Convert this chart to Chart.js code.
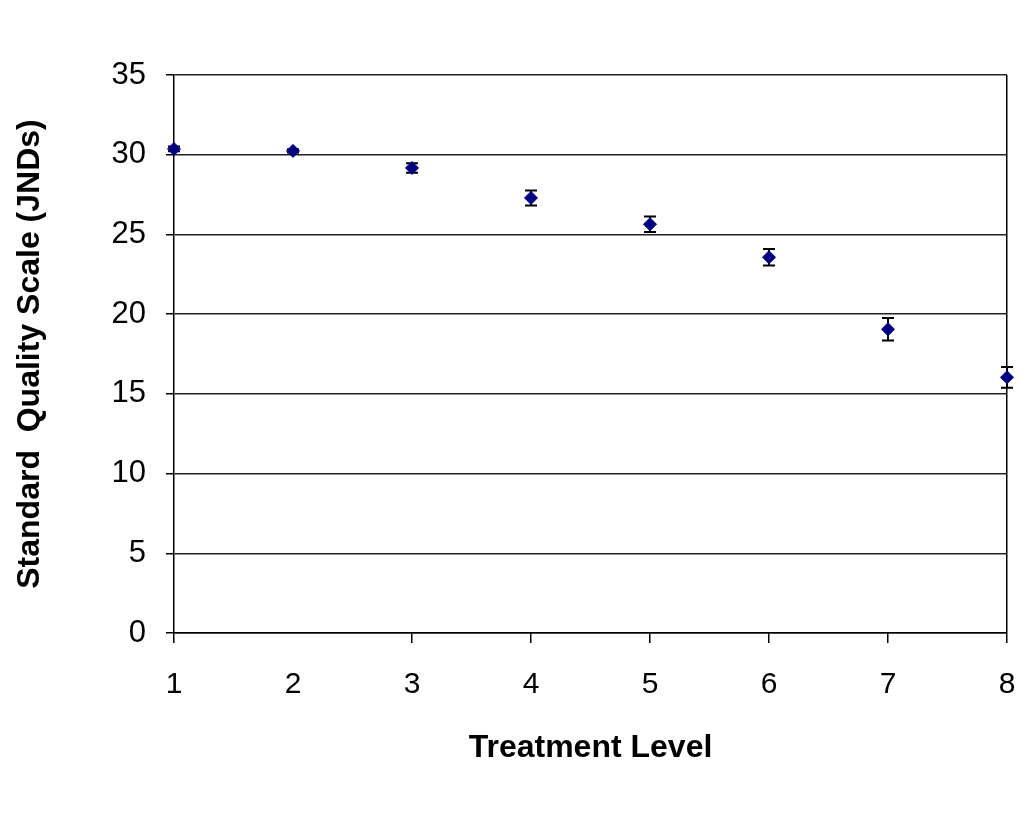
<!DOCTYPE html>
<html>
<head>
<meta charset="utf-8">
<script src="https://cdn.jsdelivr.net/npm/chart.js@4"></script>
<style>
    body { margin: 0; background: #fff; }
    #wrap { width: 1029px; height: 825px; }
</style>
</head>
<body>
<div id="wrap"><canvas id="chartQuality"></canvas></div>
<script>
const treatmentLevels = [1, 2, 3, 4, 5, 6, 7, 8];
const qualityMeans = [30.36, 30.24, 29.17, 27.29, 25.64, 23.57, 19.05, 16.04];
const qualityErrors = [0.15, 0.1, 0.3, 0.47, 0.49, 0.52, 0.71, 0.65];
const yTicks = [0, 5, 10, 15, 20, 25, 30, 35];

const FONT = "'Liberation Sans', Arial, sans-serif";

// error bars drawn under the diamonds
const errorBars = {
    id: "errorBars",
    beforeDatasetsDraw(chart) {
        const ctx = chart.ctx;
        const xs = chart.scales.x;
        const ys = chart.scales.y;
        ctx.save();
        ctx.strokeStyle = "#000";
        ctx.lineWidth = 2;
        treatmentLevels.forEach((lvl, i) => {
            const x = xs.getPixelForValue(lvl);
            const top = ys.getPixelForValue(qualityMeans[i] + qualityErrors[i]);
            const bot = ys.getPixelForValue(qualityMeans[i] - qualityErrors[i]);
            ctx.beginPath();
            ctx.moveTo(x, top);
            ctx.lineTo(x, bot);
            ctx.moveTo(x - 6, top);
            ctx.lineTo(x + 6, top);
            ctx.moveTo(x - 6, bot);
            ctx.lineTo(x + 6, bot);
            ctx.stroke();
        });
        ctx.restore();
    }
};

new Chart(
    document.getElementById("chartQuality"),
    {
        type: "scatter",
        data: {
            datasets: [{
                label: "Standard Quality",
                data: treatmentLevels.map((lvl, i) => ({ x: lvl, y: qualityMeans[i] })),
                clip: false,
                pointStyle: "rectRot",
                pointRadius: 6.5,
                pointBackgroundColor: "#000080",
                pointBorderColor: "#000080",
                pointBorderWidth: 1
            }]
        },
        options: {
            responsive: true,
            maintainAspectRatio: false,
            animation: false,
            events: [],
            layout: {
                padding: { left: 11, right: 22, top: 75, bottom: 58 }
            },
            plugins: {
                legend: { display: false },
                tooltip: { enabled: false }
            },
            scales: {
                x: {
                    type: "linear",
                    min: 1,
                    max: 8,
                    afterBuildTicks: scale => {
                        scale.ticks = treatmentLevels.map(v => ({ value: v }));
                    },
                    afterFit: scale => {
                        scale.height = 134;
                        scale.paddingLeft = 0;
                        scale.paddingRight = 0;
                    },
                    ticks: {
                        color: "#000",
                        padding: 24,
                        font: { family: FONT, size: 30 }
                    },
                    grid: {
                        color: c => c.tick && c.tick.value === 8 ? "#000" : "transparent",
                        tickColor: c => c.tick && c.tick.value === 2 ? "transparent" : "#000",
                        tickLength: 10,
                        lineWidth: 1.5
                    },
                    border: { color: "#000", width: 1.5 },
                    title: {
                        display: true,
                        text: "Treatment Level",
                        color: "#000",
                        padding: 0,
                        font: { family: FONT, size: 32, weight: "bold" }
                    }
                },
                y: {
                    min: 0,
                    max: 35,
                    afterBuildTicks: scale => {
                        scale.ticks = yTicks.map(v => ({ value: v }));
                    },
                    afterFit: scale => { scale.width = 163; },
                    ticks: {
                        color: "#000",
                        padding: 20,
                        font: { family: FONT, size: 31 }
                    },
                    grid: {
                        color: "#222",
                        tickColor: "#000",
                        tickLength: 8,
                        lineWidth: 1.5
                    },
                    border: { color: "#000", width: 1.5 },
                    title: {
                        display: true,
                        text: "Standard  Quality Scale (JNDs)",
                        color: "#000",
                        padding: 0,
                        font: { family: FONT, size: 32, weight: "bold" }
                    }
                }
            }
        },
        plugins: [errorBars]
    }
);
</script>
</body>
</html>
